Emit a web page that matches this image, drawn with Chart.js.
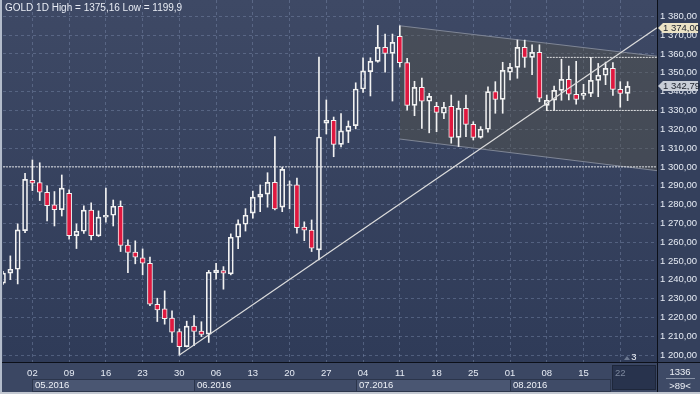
<!DOCTYPE html>
<html>
<head>
<meta charset="utf-8">
<script src="https://cdn.jsdelivr.net/npm/chart.js@4.4.1/dist/chart.umd.min.js"></script>
<style>
html, body { margin: 0; padding: 0; background: #3b4763; }
#wrap { width: 700px; height: 394px; position: relative; }
</style>
</head>
<body>
<div id="wrap"><canvas id="goldChart"></canvas></div>
<script>
// GOLD daily candles, 26.04.2016 .. 23.08.2016, one entry per trading day (x = index)
const opens = [1238.2,1243.5,1245.6,1266.1,1292.9,1291.6,1286.5,1279.8,1277.3,1286.0,
  1263.5,1265.8,1277.0,1263.3,1273.3,1274.3,1279.1,1258.4,1254.7,1251.6,
  1248.8,1227.0,1224.6,1219.6,1212.5,1204.5,1215.4,1212.7,1211.1,1243.8,
  1244.9,1243.1,1262.6,1269.5,1275.4,1283.9,1285.5,1291.8,1278.6,1290.1,
  1290.4,1268.0,1266.4,1255.9,1323.2,1324.8,1312.0,1318.9,1321.9,1341.4,
  1350.6,1356.1,1363.5,1360.3,1369.4,1355.4,1332.7,1342.3,1334.9,1332.2,
  1328.5,1332.2,1315.7,1331.1,1322.6,1315.7,1320.0,1340.0,1335.9,1350.3,
  1352.9,1363.5,1358.2,1360.9,1332.7,1335.4,1340.7,1346.5,1338.6,1338.0,
  1339.1,1346.0,1348.7,1352.4,1341.2,1339.1];
const highs = [1244.5,1252.7,1269.7,1296.6,1303.7,1302.2,1289.9,1286.9,1295.7,1287.8,
  1269.7,1279.3,1280.9,1276.6,1288.7,1282.4,1281.9,1261.2,1260.7,1256.4,
  1252.0,1230.2,1234.1,1223.5,1213.9,1218.0,1221.0,1217.7,1245.0,1248.8,
  1247.0,1264.4,1271.8,1277.8,1287.2,1290.4,1296.9,1316.1,1299.8,1292.5,
  1294.0,1270.8,1271.8,1358.4,1335.6,1326.5,1328.3,1324.4,1344.7,1358.0,
  1358.0,1375.2,1370.6,1370.6,1375.0,1357.7,1345.5,1347.2,1339.1,1334.3,
  1334.3,1338.2,1335.0,1338.2,1324.0,1321.4,1342.6,1345.3,1355.6,1355.0,
  1367.4,1367.4,1364.9,1364.9,1338.2,1343.0,1357.2,1353.6,1356.1,1343.9,
  1358.2,1355.0,1355.7,1355.4,1345.3,1345.3];
const lows = [1237.5,1240.1,1237.8,1265.1,1287.4,1282.1,1271.3,1268.6,1273.9,1261.6,
  1256.6,1264.6,1261.2,1263.0,1270.6,1268.6,1255.0,1243.8,1248.5,1242.6,
  1226.3,1217.8,1216.4,1206.7,1199.9,1204.3,1205.0,1209.8,1206.7,1240.3,
  1235.0,1242.6,1256.6,1265.9,1272.7,1276.2,1278.6,1277.1,1276.2,1277.7,
  1264.8,1260.8,1255.0,1250.6,1317.5,1305.4,1310.6,1312.9,1320.2,1339.6,
  1337.7,1355.6,1350.3,1335.0,1353.1,1330.2,1327.2,1320.5,1318.1,1318.7,
  1325.6,1312.6,1310.8,1316.1,1314.3,1315.2,1318.4,1328.5,1328.5,1346.2,
  1347.1,1352.9,1349.0,1334.6,1329.9,1330.1,1335.4,1335.6,1333.3,1335.9,
  1337.3,1337.3,1343.7,1338.0,1331.7,1335.2];
const closes = [1243.5,1245.6,1266.5,1293.4,1291.3,1286.5,1279.4,1277.3,1288.7,1263.5,
  1265.8,1277.0,1263.5,1273.3,1274.3,1279.1,1258.2,1254.5,1252.0,1248.8,
  1227.0,1224.0,1219.3,1212.2,1204.5,1215.4,1212.5,1210.9,1244.0,1245.1,
  1243.5,1262.6,1269.7,1274.3,1283.9,1285.5,1291.8,1277.7,1298.7,1290.6,
  1267.7,1266.4,1256.8,1315.9,1324.8,1312.0,1319.1,1321.7,1341.4,1351.0,
  1356.1,1363.5,1360.3,1366.2,1355.4,1332.7,1342.3,1334.9,1337.5,1329.0,
  1331.7,1315.7,1331.1,1322.6,1315.7,1320.0,1340.0,1335.9,1351.3,1352.9,
  1363.5,1358.2,1360.9,1336.5,1335.4,1340.7,1346.5,1338.6,1335.9,1339.1,
  1346.0,1348.7,1352.4,1341.2,1339.1,1342.79];

// mondays (index into the arrays above) and their day labels
const weekTicks = [4,9,14,19,24,29,34,39,44,49,54,59,64,69,74,79,84];
const weekLabels = ['02','09','16','23','30','06','13','20','27','04','11','18','25','01','08','15','22'];
const monthStarts = [4,26,48,69];
const monthLabels = ['05.2016','06.2016','07.2016','08.2016'];
const yTicks = [1200,1210,1220,1230,1240,1250,1260,1270,1280,1290,1300,1310,1320,1330,1340,1350,1360,1370,1380];

// drawn studies
const trendLine = [{x: 24, y: 1200}, {x: 89, y: 1374}];
const channelTop = [{x: 54, y: 1375}, {x: 89, y: 1358.8}];
const channelBottom = [{x: 54, y: 1314.8}, {x: 89, y: 1298}];
const level1300 = [{x: 0, y: 1300}, {x: 89, y: 1300}];
const rangeHigh = [{x: 74, y: 1358.2}, {x: 89, y: 1358.2}];
const rangeLow = [{x: 74, y: 1330}, {x: 89, y: 1330}];
const trendValue = 1374;
const lastClose = closes[closes.length - 1];

const titleText = 'GOLD 1D High = 1375,16 Low = 1199,9';
const barsInfo = ['1336', '>89<'];

const FONT = "'Liberation Sans', Arial, sans-serif";
const RED = '#e0183f';
const WICK = '#f2f2f2';

function fmtPrice(v) {
  const s = v.toFixed(2).split('.');
  const n = s[0];
  return n.slice(0, n.length - 3) + ' ' + n.slice(-3) + ',' + s[1];
}

const upperWicks = highs.map((h, i) => ({x: i, y: [Math.max(opens[i], closes[i]), h]}));
const lowerWicks = lows.map((l, i) => ({x: i, y: [l, Math.min(opens[i], closes[i])]}));
const bodies = opens.map((o, i) => ({x: i, y: [o, closes[i]]}));

const lineDs = (data, color, extra) => Object.assign({
  type: 'line', data: data, borderColor: color, borderWidth: 1,
  pointRadius: 0, fill: false, tension: 0
}, extra);

const decor = {
  id: 'decor',
  beforeDraw(chart) {
    const {ctx, chartArea: a, width, height} = chart;
    const xs = chart.scales.x;
    ctx.save();
    ctx.fillStyle = '#3b4763';
    ctx.fillRect(0, 0, width, height);
    const g = ctx.createLinearGradient(0, a.top, 0, a.bottom);
    g.addColorStop(0, '#3e4965');
    g.addColorStop(1, '#2f3b58');
    ctx.fillStyle = g;
    ctx.fillRect(a.left, a.top, a.right - a.left, a.bottom - a.top);
    ctx.fillStyle = '#34405c';
    ctx.fillRect(a.right, 0, width - a.right, a.bottom);

    // current week box
    const curLeft = Math.round(xs.getPixelForValue(weekTicks[weekTicks.length - 1]) - 8.5);
    ctx.fillStyle = '#28334d';
    ctx.fillRect(curLeft, a.bottom + 3, a.right - 2 - curLeft, height - a.bottom - 7);
    ctx.strokeStyle = '#1e273b';
    ctx.strokeRect(curLeft + 0.5, a.bottom + 3.5, a.right - 2 - curLeft, height - a.bottom - 8);

    // month boxes
    ctx.font = '9.5px ' + FONT;
    ctx.textBaseline = 'middle';
    monthStarts.forEach((m, i) => {
      const x0 = Math.round(xs.getPixelForValue(m));
      const x1 = i < monthStarts.length - 1 ? Math.round(xs.getPixelForValue(monthStarts[i + 1])) : curLeft - 2;
      ctx.fillStyle = i % 2 === 0 ? '#4a5672' : '#3f4b67';
      ctx.fillRect(x0, 379, x1 - x0, 12);
      ctx.strokeStyle = '#2b354b';
      ctx.strokeRect(x0 + 0.5, 379.5, x1 - x0, 12);
      ctx.fillStyle = '#eef1f7';
      ctx.fillText(monthLabels[i], x0 + 3, 385.5);
    });

    // bottom right info box
    ctx.fillStyle = '#3e4a66';
    ctx.fillRect(a.right, a.bottom, width - a.right, height - a.bottom);
    ctx.restore();
  },
  afterDraw(chart) {
    const {ctx, chartArea: a, width, height} = chart;
    const ys = chart.scales.y;
    ctx.save();
    // frame lines
    ctx.strokeStyle = '#0c1019';
    ctx.lineWidth = 1;
    ctx.beginPath();
    ctx.moveTo(a.right + 0.5, 0); ctx.lineTo(a.right + 0.5, height - 2);
    ctx.moveTo(0, a.bottom + 0.5); ctx.lineTo(width, a.bottom + 0.5);
    ctx.stroke();
    ctx.fillStyle = '#b3bccb';
    ctx.fillRect(0, 0, 2, height);
    ctx.fillStyle = '#c3c8d1';
    ctx.fillRect(0, height - 2, width, 2);

    // price tags on the right axis
    ctx.font = '9.5px ' + FONT;
    ctx.textBaseline = 'middle';
    [[trendValue, '#ebe3c6'], [lastClose, '#c8cdd7']].forEach(([v, col]) => {
      const y = Math.round(ys.getPixelForValue(v));
      ctx.fillStyle = col;
      ctx.beginPath();
      ctx.moveTo(a.right + 1, y);
      ctx.lineTo(a.right + 6, y - 5);
      ctx.lineTo(width - 2, y - 5);
      ctx.lineTo(width - 2, y + 5);
      ctx.lineTo(a.right + 6, y + 5);
      ctx.closePath();
      ctx.fill();
      ctx.fillStyle = '#1a1f2a';
      ctx.fillText(fmtPrice(v), a.right + 6, y + 0.5);
    });

    // info box text
    ctx.fillStyle = '#eef1f7';
    ctx.textAlign = 'center';
    ctx.fillText(barsInfo[0], 680, 372);
    ctx.fillText(barsInfo[1], 680, 386);
    ctx.strokeStyle = '#8892a6';
    ctx.beginPath();
    ctx.moveTo(666, 378.5); ctx.lineTo(695, 378.5);
    ctx.stroke();

    // small marker near the last bar
    ctx.fillStyle = '#6c7890';
    ctx.beginPath();
    ctx.moveTo(624, a.bottom - 2); ctx.lineTo(627, a.bottom - 6); ctx.lineTo(630, a.bottom - 2);
    ctx.closePath();
    ctx.fill();
    ctx.fillStyle = '#eef1f7';
    ctx.fillText('3', 634, a.bottom - 5);

    // title
    ctx.textAlign = 'left';
    ctx.font = '10px ' + FONT;
    ctx.fillStyle = '#e8ecf4';
    ctx.fillText(titleText, 5, 8);
    ctx.restore();
  }
};

Chart.defaults.font.family = FONT;
Chart.defaults.font.size = 9.5;

new Chart(document.getElementById('goldChart'), {
  type: 'bar',
  data: {
    datasets: [
      lineDs(channelTop, '#7f8696', {fill: '+1', backgroundColor: 'rgba(90,86,72,0.38)', order: 20}),
      lineDs(channelBottom, '#7f8696', {order: 19}),
      {data: upperWicks, backgroundColor: WICK, barThickness: 1, grouped: false, order: 6},
      {data: lowerWicks, backgroundColor: WICK, barThickness: 1, grouped: false, order: 6},
      {
        data: bodies, barThickness: 5, grouped: false, order: 5,
        borderWidth: 1, borderColor: WICK, borderSkipped: false,
        backgroundColor: c => closes[c.dataIndex] < opens[c.dataIndex] ? RED : 'rgba(0,0,0,0)'
      },
      lineDs(level1300, 'rgba(240,240,240,0.9)', {borderDash: [2, 1], order: 2}),
      lineDs(rangeHigh, 'rgba(240,240,240,0.9)', {borderDash: [2, 1], order: 2}),
      lineDs(rangeLow, 'rgba(240,240,240,0.9)', {borderDash: [2, 1], order: 2}),
      lineDs(trendLine, '#dcdcdc', {borderWidth: 1.2, order: 1})
    ]
  },
  options: {
    responsive: true,
    maintainAspectRatio: false,
    animation: false,
    layout: {padding: {left: 3, top: 0, right: 0, bottom: 0}},
    plugins: {legend: {display: false}, tooltip: {enabled: false}},
    scales: {
      x: {
        type: 'linear', position: 'bottom', min: 0, max: 89, offset: false,
        grid: {color: 'rgba(125,140,172,0.45)', drawTicks: false, offset: false},
        border: {display: false, dash: [3, 3]},
        afterBuildTicks: s => { s.ticks = weekTicks.map(v => ({value: v})); },
        afterFit: s => { s.height = 32; s.paddingLeft = 0; s.paddingRight = 0; },
        ticks: {
          autoSkip: false, maxRotation: 0, padding: 6,
          color: c => c.index === weekLabels.length - 1 ? '#7d889e' : '#e6ebf4',
          callback: (v, i) => weekLabels[i]
        }
      },
      y: {
        type: 'linear', position: 'right', min: 1196.3, max: 1388.7,
        grid: {color: 'rgba(125,140,172,0.45)', drawTicks: false},
        border: {display: false, dash: [3, 3]},
        afterBuildTicks: s => { s.ticks = yTicks.map(v => ({value: v})); },
        afterFit: s => { s.width = 43; s.paddingTop = 0; s.paddingBottom = 0; },
        ticks: {padding: 3, color: '#e6ebf4', callback: v => fmtPrice(v)}
      }
    }
  },
  plugins: [decor]
});
</script>
</body>
</html>
